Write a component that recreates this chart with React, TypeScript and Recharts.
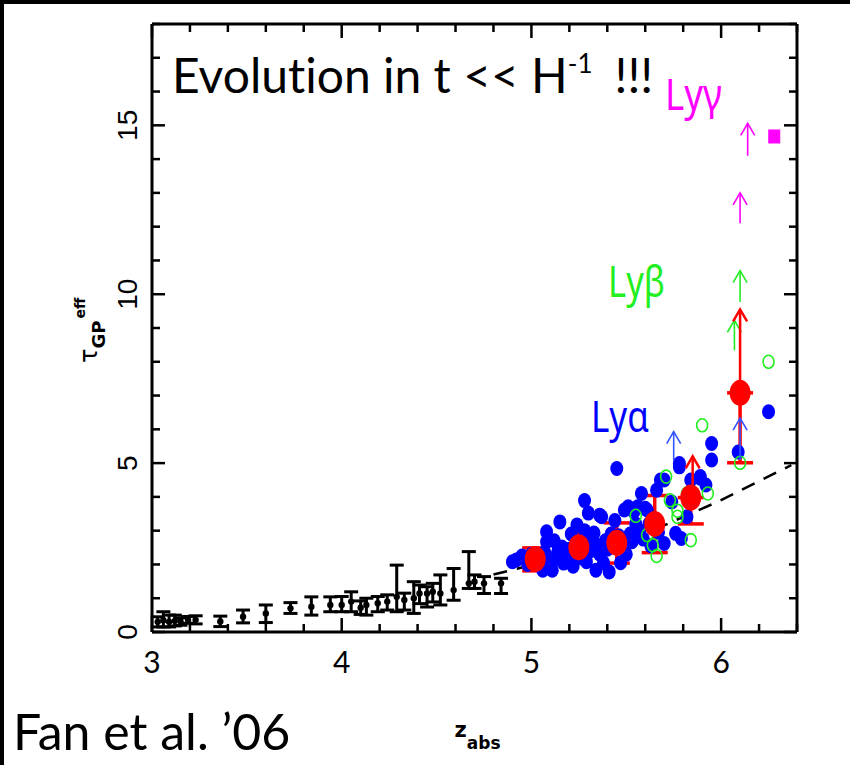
import React from 'react'
import { ComposedChart, XAxis, YAxis, Scatter, Line, ErrorBar } from 'recharts'

// redshift axis / optical depth axis ticks
const xTicks = [3, 3.2, 3.4, 3.6, 3.8, 4, 4.2, 4.4, 4.6, 4.8, 5, 5.2, 5.4, 5.6, 5.8, 6, 6.2, 6.4]
const yTicks = [0, 1, 2, 3, 4, 5, 6, 7, 8, 9, 10, 11, 12, 13, 14, 15, 16, 17, 18]

// low-z measurements (black, with errors)
const lowZ = [3.03, 3.06, 3.09, 3.12, 3.15, 3.19, 3.23, 3.36, 3.48, 3.6, 3.73, 3.84, 3.94, 4.0, 4.05, 4.1, 4.13, 4.19, 4.24, 4.29, 4.33, 4.38, 4.41, 4.45, 4.48, 4.52, 4.59, 4.67, 4.7, 4.75, 4.84]
const lowTau = [0.3, 0.35, 0.3, 0.33, 0.32, 0.36, 0.36, 0.31, 0.45, 0.55, 0.7, 0.75, 0.8, 0.8, 0.9, 0.72, 0.8, 0.85, 0.9, 1.04, 0.95, 1.0, 1.14, 1.14, 1.19, 1.14, 1.24, 1.44, 1.49, 1.44, 1.44]
const lowErrLo = [0.15, 0.2, 0.15, 0.15, 0.12, 0.1, 0.12, 0.15, 0.18, 0.27, 0.15, 0.25, 0.2, 0.2, 0.3, 0.2, 0.3, 0.25, 0.25, 0.44, 0.3, 0.45, 0.3, 0.4, 0.3, 0.34, 0.3, 0.15, 0.2, 0.3, 0.3]
const lowErrHi = [0.15, 0.25, 0.2, 0.17, 0.1, 0.1, 0.12, 0.16, 0.2, 0.25, 0.17, 0.29, 0.24, 0.25, 0.29, 0.2, 0.2, 0.2, 0.2, 0.94, 0.2, 0.49, 0.25, 0.2, 0.25, 0.55, 0.64, 0.94, 0.2, 0.2, 0.15]

// individual Ly alpha sightlines (blue)
const blueZ = [5.28, 4.92, 4.9, 4.95, 5.0, 5.04, 5.08, 5.08, 5.06, 5.11, 5.1, 5.13, 5.14, 5.16, 5.15, 5.17, 5.19, 5.21, 5.22, 5.23, 5.24, 5.26, 5.28, 5.29, 5.3, 5.31, 5.33, 5.34, 5.36, 5.36, 5.37, 5.38, 5.39, 5.41, 5.42, 5.44, 5.45, 5.47, 5.47, 5.49, 5.5, 5.51, 5.52, 5.53, 5.54, 5.56, 5.57, 5.58, 5.6, 5.61, 5.62, 5.63, 5.66, 5.67, 5.68, 5.7, 5.7, 5.74, 5.76, 5.78, 5.78, 5.79, 5.82, 5.84, 5.89, 5.89, 5.92, 5.95, 5.95, 6.09, 6.25, 4.98, 5.07, 5.12, 5.2, 5.27, 5.32, 5.4, 5.46, 5.55, 5.59, 5.12, 5.35]
const blueTau = [3.89, 2.13, 2.08, 2.25, 2.3, 2.1, 2.97, 2.67, 1.83, 1.83, 2.0, 2.23, 2.4, 2.52, 3.26, 2.04, 2.2, 2.9, 1.95, 2.52, 3.17, 2.2, 3.0, 2.08, 3.52, 2.4, 2.93, 1.83, 3.46, 2.3, 3.41, 2.05, 2.7, 1.78, 2.9, 3.3, 4.84, 2.5, 2.05, 3.61, 2.3, 3.71, 2.9, 2.67, 3.56, 3.71, 3.0, 4.1, 3.66, 3.61, 3.2, 2.55, 4.2, 2.95, 4.5, 2.62, 4.5, 3.85, 2.92, 4.89, 4.99, 2.77, 3.41, 4.5, 4.55, 4.6, 4.35, 5.09, 5.58, 5.33, 6.52, 2.0, 2.35, 2.7, 2.45, 2.6, 2.75, 2.45, 2.85, 3.2, 2.75, 2.15, 2.55]

// Ly beta sightlines (green open)
const greenZ = [6.25, 5.9, 6.1, 5.71, 5.55, 5.73, 5.77, 5.82, 5.93, 5.77, 5.61, 5.64, 5.66, 5.84]
const greenTau = [8.0, 6.12, 5.01, 4.6, 3.44, 3.9, 3.59, 4.1, 4.1, 3.41, 2.87, 2.57, 2.25, 2.72]

// binned means (red)
const binZ = [5.02, 5.25, 5.45, 5.65, 5.84, 6.1]
const binTau = [2.16, 2.51, 2.64, 3.2, 3.98, 7.08]
const binErrLo = [0.35, 0.47, 0.6, 0.85, 0.78, 2.07]
const binErrHi = [0.33, 0.46, 0.59, 0.84, 0, 0]

// lower limits: [z, from, to]
const lyaLimits = [[5.75, 5.09, 5.93], [6.1, 5.09, 6.33]]
const lybLimits = [[6.07, 8.34, 9.23], [6.1, 9.77, 10.7]]
const lygLimits = [[6.1, 12.1, 13.0], [6.14, 14.1, 15.06]]
const binLimits = [[5.85, 3.98, 5.2], [6.1, 7.08, 9.55]]

// Ly gamma measurement
const lygZ = [6.28]
const lygTau = [14.67]

// power-law fit (dashed)
const fitZ = [4.8, 5.11, 5.49, 5.74, 5.98, 6.37]
const fitTau = [1.7, 2.13, 2.62, 3.26, 3.85, 4.94]

const lowData = lowZ.map((z, i) => ({ z, t: lowTau[i], err: [lowErrLo[i], lowErrHi[i]] }))
const blueData = blueZ.map((z, i) => ({ z, t: blueTau[i] }))
const greenData = greenZ.map((z, i) => ({ z, t: greenTau[i] }))
const binData = binZ.map((z, i) => ({ z, t: binTau[i], err: [binErrLo[i], binErrHi[i]] }))
const lygData = lygZ.map((z, i) => ({ z, t: lygTau[i] }))
const fitData = fitZ.map((z, i) => ({ z, t: fitTau[i] }))

const RED = '#ff0000'
const BLUE = '#0000ff'
const GREEN = '#22ee22'
const MAGENTA = '#ff00ff'

const isInt = (v: number) => Math.abs(v - Math.round(v)) < 1e-6

function BottomTick({ x, y, payload }: any) {
  const major = isInt(payload.value)
  return (
    <g>
      <line x1={x} y1={y} x2={x} y2={y - (major ? 14 : 8)} stroke="#000" strokeWidth={2.5} />
      {major && (
        <text x={x} y={y + 41} textAnchor="middle" fontFamily="Lato, sans-serif" fontSize={30} fill="#000">
          {payload.value}
        </text>
      )}
    </g>
  )
}

function TopTick({ x, y, payload }: any) {
  const major = isInt(payload.value)
  return <line x1={x} y1={y} x2={x} y2={y + (major ? 14 : 8)} stroke="#000" strokeWidth={2.5} />
}

function LeftTick({ x, y, payload }: any) {
  const major = payload.value % 5 === 0
  return (
    <g>
      <line x1={x} y1={y} x2={x + (major ? 13 : 8)} y2={y} stroke="#000" strokeWidth={2.5} />
      {major && (
        <text
          transform={`translate(${x - 15},${y}) rotate(-90)`}
          textAnchor="middle"
          fontFamily="Liberation Sans, Arial, sans-serif"
          fontSize={28}
          fill="#000"
        >
          {payload.value}
        </text>
      )}
    </g>
  )
}

function RightTick({ x, y, payload }: any) {
  const major = payload.value % 5 === 0
  return <line x1={x} y1={y} x2={x - (major ? 13 : 8)} y2={y} stroke="#000" strokeWidth={2.5} />
}

function ZLabel({ viewBox }: any) {
  const cx = viewBox.x + viewBox.width / 2
  return (
    <text x={cx - 20} y={viewBox.y + 105} fontFamily="DejaVu Sans, sans-serif" fill="#000" fontWeight="bold">
      <tspan fontSize={21}>z</tspan>
      <tspan fontSize={17} dy={12}>abs</tspan>
    </text>
  )
}

function TauLabel({ viewBox }: any) {
  const bx = viewBox.x + 5
  const by = viewBox.y + viewBox.height / 2 + 35
  return (
    <text transform={`translate(${bx},${by}) rotate(-90)`} fontFamily="DejaVu Sans, sans-serif" fill="#000">
      <tspan fontSize={24}>τ</tspan>
      <tspan fontSize={18} fontWeight="bold" dy={8}>GP</tspan>
      <tspan fontSize={14} fontWeight="bold" dy={-20} dx={2}>eff</tspan>
    </text>
  )
}

const dot = (rx: number, ry: number, fill: string) => (p: any) =>
  <ellipse cx={p.cx} cy={p.cy} rx={rx} ry={ry} fill={fill} />

const ring = (p: any) =>
  <ellipse cx={p.cx} cy={p.cy} rx={5.5} ry={6.5} fill="none" stroke={GREEN} strokeWidth={1.6} />

const square = (p: any) =>
  <rect x={p.cx - 6} y={p.cy - 7} width={12} height={14} fill={MAGENTA} />

const arrowHead = (color: string, w: number) => (p: any) =>
  p.payload.tip ? (
    <path
      d={`M${p.cx - 7},${p.cy + 12} L${p.cx},${p.cy} L${p.cx + 7},${p.cy + 12}`}
      fill="none"
      stroke={color}
      strokeWidth={w}
    />
  ) : (
    <g />
  )

function limitSeries(list: number[][], color: string, w: number, key: string) {
  return list.map(([z, from, to], i) => (
    <Scatter
      key={key + i}
      data={[{ z, t: from }, { z, t: to, tip: true }]}
      dataKey="t"
      line={{ stroke: color, strokeWidth: w }}
      shape={arrowHead(color, w)}
      isAnimationActive={false}
    />
  ))
}

const lyStyle = { fontFamily: 'Noto Sans, sans-serif', fontSize: 44 }

export default function App() {
  return (
    <div style={{ position: 'absolute', left: 0, top: 0, width: 850, height: 765, background: '#fff' }}>
      <div
        style={{
          position: 'absolute', left: 0, top: 0, width: 850, height: 765,
          borderTop: '4px solid #000', borderLeft: '4px solid #000', boxSizing: 'border-box',
        }}
      />
      <div style={{ position: 'absolute', left: 0, top: 0 }}>
        <ComposedChart width={850} height={765} margin={{ top: 14, right: 43, bottom: 93, left: 92 }}>
          <XAxis
            dataKey="z"
            type="number"
            domain={[3, 6.4]}
            ticks={xTicks}
            allowDataOverflow
            height={40}
            tickSize={0}
            tickMargin={0}
            tickLine={false}
            axisLine={{ stroke: '#000', strokeWidth: 3 }}
            tick={<BottomTick />}
            interval={0}
            label={<ZLabel />}
          />
          <XAxis
            xAxisId="top"
            orientation="top"
            dataKey="z"
            type="number"
            domain={[3, 6.4]}
            ticks={xTicks}
            allowDataOverflow
            height={10}
            tickSize={0}
            tickMargin={0}
            tickLine={false}
            axisLine={{ stroke: '#000', strokeWidth: 3 }}
            tick={<TopTick />}
            interval={0}
          />
          <YAxis
            dataKey="t"
            type="number"
            domain={[0, 18]}
            ticks={yTicks}
            allowDataOverflow
            width={60}
            tickSize={0}
            tickMargin={0}
            tickLine={false}
            axisLine={{ stroke: '#000', strokeWidth: 3 }}
            tick={<LeftTick />}
            interval={0}
            label={<TauLabel />}
          />
          <YAxis
            yAxisId="right"
            orientation="right"
            type="number"
            domain={[0, 18]}
            ticks={yTicks}
            allowDataOverflow
            width={10}
            tickSize={0}
            tickMargin={0}
            tickLine={false}
            axisLine={{ stroke: '#000', strokeWidth: 3 }}
            tick={<RightTick />}
            interval={0}
          />

          <Scatter data={blueData} dataKey="t" shape={dot(6.5, 7.5, BLUE)} isAnimationActive={false} />
          <Scatter data={greenData} dataKey="t" shape={ring} isAnimationActive={false} />
          {limitSeries(lyaLimits, '#3355ff', 1.6, 'lya')}
          {limitSeries(lybLimits, GREEN, 1.6, 'lyb')}
          {limitSeries(lygLimits, MAGENTA, 1.6, 'lyg')}
          <Scatter data={lygData} dataKey="t" shape={square} isAnimationActive={false} />
          <Line
            data={fitData}
            dataKey="t"
            type="linear"
            stroke="#000"
            strokeWidth={2.5}
            strokeDasharray="14 10"
            dot={false}
            isAnimationActive={false}
          />
          <Scatter data={lowData} dataKey="t" shape={dot(3.2, 3.2, '#000')} isAnimationActive={false}>
            <ErrorBar dataKey="err" direction="y" width={7} stroke="#000" strokeWidth={3} />
          </Scatter>
          {limitSeries(binLimits, RED, 2.5, 'bin')}
          <Scatter data={binData} dataKey="t" shape={dot(10.5, 13, RED)} isAnimationActive={false}>
            <ErrorBar dataKey="err" direction="y" width={13} stroke={RED} strokeWidth={3.5} />
          </Scatter>
        </ComposedChart>
      </div>
      <svg width={850} height={765} style={{ position: 'absolute', left: 0, top: 0, pointerEvents: 'none', fontVariantLigatures: 'none' }}>
        <text x={172} y={93} fontFamily="Lato, sans-serif" fontSize={48} fill="#000">
          Evolution in t {'<<'} H<tspan fontSize={26} dy={-20}>-1</tspan>
          <tspan dy={20} dx={22}>!!!</tspan>
        </text>
        <text x={13} y={750} fontFamily="Lato, sans-serif" fontSize={50} fill="#000">
          Fan et al. ’06
        </text>
        <text x={665} y={110} {...lyStyle} fill={MAGENTA} textLength={57} lengthAdjust="spacingAndGlyphs">
          Lyγ
        </text>
        <text x={608} y={297} {...lyStyle} fill={GREEN} textLength={57} lengthAdjust="spacingAndGlyphs">
          Lyβ
        </text>
        <text x={591} y={432} {...lyStyle} fill={BLUE} textLength={58} lengthAdjust="spacingAndGlyphs">
          Lyα
        </text>
      </svg>
    </div>
  )
}
